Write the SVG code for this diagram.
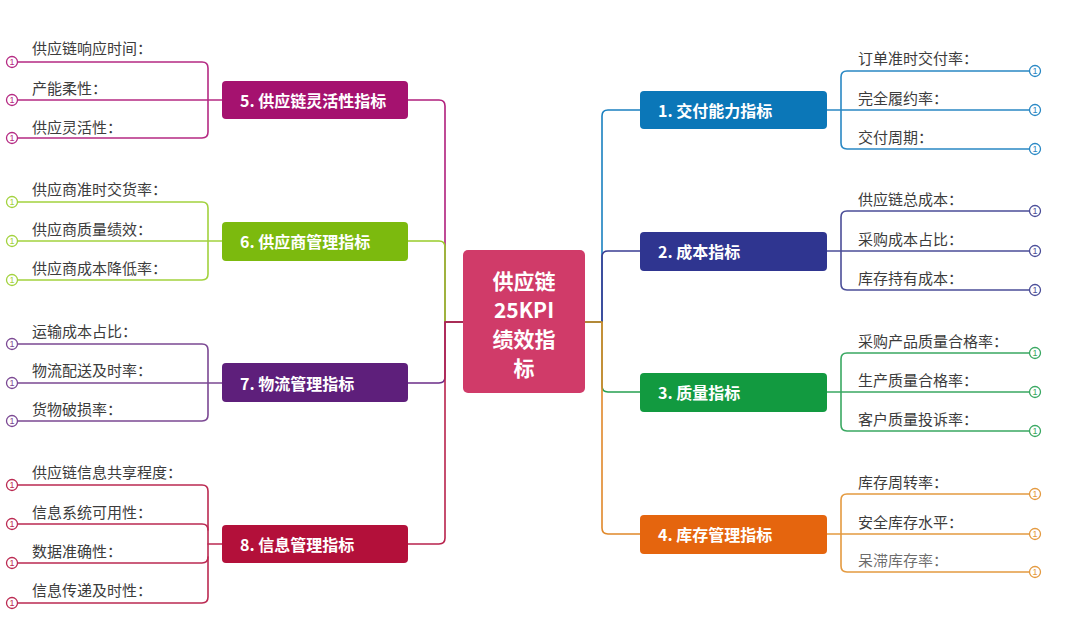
<svg xmlns="http://www.w3.org/2000/svg" width="1080" height="618" viewBox="0 0 1080 618">
<style>
.bg{fill:#ffffff}
.c{fill:none;stroke-width:1.6;stroke-linecap:round;stroke-linejoin:round}
.leaf{font-family:"Noto Sans CJK SC","Noto Sans",sans-serif;font-size:15px;fill:#3c3c3c;dominant-baseline:central}
.nt{font-family:"Noto Sans CJK SC","Noto Sans",sans-serif;font-size:16px;font-weight:700;fill:#ffffff;dominant-baseline:central}
.ct{font-family:"Noto Sans CJK SC","Noto Sans",sans-serif;font-size:21px;font-weight:700;fill:#ffffff;dominant-baseline:central;text-anchor:middle}
.dot{fill:#ffffff;stroke-width:1.3}
.dn{font-family:"Liberation Sans",sans-serif;font-size:9px;text-anchor:middle;dominant-baseline:central}
</style>
<rect class="bg" x="0" y="0" width="1080" height="618"/>
<g id="connectors">
  <path class="c" stroke="#1a80c0" d="M585,322 H602 V116 Q602,110 608,110 H640"/>
  <path class="c" stroke="#3a3d93" d="M585,322 H602 V257 Q602,251 608,251 H640"/>
  <path class="c" stroke="#26a050" d="M585,322 H602 V386 Q602,392 608,392 H640"/>
  <path class="c" stroke="#e0882a" d="M585,322 H602 V528 Q602,534 608,534 H640"/>
  <path class="c" stroke="#b01f7c" d="M463,322 H445 V106 Q445,100 439,100 H408"/>
  <path class="c" stroke="#98cc2a" d="M463,322 H445 V247 Q445,241 439,241 H408"/>
  <path class="c" stroke="#6b2d88" d="M463,322 H445 V377 Q445,383 439,383 H408"/>
  <path class="c" stroke="#b8224c" d="M463,322 H445 V538 Q445,544 439,544 H408"/>
  <g stroke="#2a88c4" class="c"><path d="M827,110 H1030"/><path d="M1030,71 H847 Q841,71 841,77 V143 Q841,149 847,149 H1030"/></g>
  <g stroke="#4b4e98" class="c"><path d="M827,251 H1030"/><path d="M1030,211 H847 Q841,211 841,217 V284 Q841,290 847,290 H1030"/></g>
  <g stroke="#3aa862" class="c"><path d="M827,392 H1030"/><path d="M1030,353 H847 Q841,353 841,359 V425 Q841,431 847,431 H1030"/></g>
  <g stroke="#e49a40" class="c"><path d="M827,534 H1030"/><path d="M1030,494 H847 Q841,494 841,500 V566 Q841,572 847,572 H1030"/></g>
  <g stroke="#b52a83" class="c"><path d="M222,100 H17"/><path d="M17,62 H202 Q208,62 208,68 V132 Q208,138 202,138 H17"/></g>
  <g stroke="#a2d23e" class="c"><path d="M222,241 H17"/><path d="M17,202 H202 Q208,202 208,208 V274 Q208,280 202,280 H17"/></g>
  <g stroke="#7b4893" class="c"><path d="M222,383 H17"/><path d="M17,344 H202 Q208,344 208,350 V415 Q208,421 202,421 H17"/></g>
  <g stroke="#bb2a52" class="c"><path d="M17,485 H202 Q208,485 208,491 V597 Q208,603 202,603 H17"/><path d="M17,524 H202 Q208,524 208,530"/><path d="M17,563 H202 Q208,563 208,557"/><path d="M208,544 H222"/></g>
</g>
<g id="center">
  <rect x="463" y="250" width="122" height="143" rx="5" fill="#d03b69"/>
  <text class="ct" x="524" y="280">供应链</text>
  <text class="ct" x="524" y="309">25KPI</text>
  <text class="ct" x="524" y="338">绩效指</text>
  <text class="ct" x="524" y="367">标</text>
</g>
<g id="n1"><rect x="640" y="91" width="187" height="38" rx="4" fill="#0b77b8"/><text class="nt" x="658" y="110">1. 交付能力指标</text></g>
<g id="n2"><rect x="640" y="232" width="187" height="39" rx="4" fill="#2f3590"/><text class="nt" x="658" y="251">2. 成本指标</text></g>
<g id="n3"><rect x="640" y="373" width="187" height="39" rx="4" fill="#129a40"/><text class="nt" x="658" y="392">3. 质量指标</text></g>
<g id="n4"><rect x="640" y="515" width="187" height="39" rx="4" fill="#e5650e"/><text class="nt" x="658" y="534">4. 库存管理指标</text></g>
<g id="n5"><rect x="222" y="81" width="186" height="38" rx="4" fill="#a5126f"/><text class="nt" x="240" y="100">5. 供应链灵活性指标</text></g>
<g id="n6"><rect x="222" y="222" width="186" height="39" rx="4" fill="#7cba0e"/><text class="nt" x="240" y="241">6. 供应商管理指标</text></g>
<g id="n7"><rect x="222" y="363" width="186" height="39" rx="4" fill="#5e1f7b"/><text class="nt" x="240" y="383">7. 物流管理指标</text></g>
<g id="n8"><rect x="222" y="525" width="186" height="38" rx="4" fill="#b3103a"/><text class="nt" x="240" y="544">8. 信息管理指标</text></g>
<g id="leaves-right">
  <g id="l1"><text class="leaf" x="858" y="57">订单准时交付率：</text><text class="leaf" x="858" y="97">完全履约率：</text><text class="leaf" x="858" y="136">交付周期：</text></g>
  <g id="l2"><text class="leaf" x="858" y="198">供应链总成本：</text><text class="leaf" x="858" y="238">采购成本占比：</text><text class="leaf" x="858" y="277">库存持有成本：</text></g>
  <g id="l3"><text class="leaf" x="858" y="340">采购产品质量合格率：</text><text class="leaf" x="858" y="379">生产质量合格率：</text><text class="leaf" x="858" y="418">客户质量投诉率：</text></g>
  <g id="l4"><text class="leaf" x="858" y="481">库存周转率：</text><text class="leaf" x="858" y="521">安全库存水平：</text><text class="leaf" x="858" y="559" fill-opacity="0.75">呆滞库存率：</text></g>
</g>
<g id="leaves-left">
  <g id="l5"><text class="leaf" x="32" y="47">供应链响应时间：</text><text class="leaf" x="32" y="87">产能柔性：</text><text class="leaf" x="32" y="126">供应灵活性：</text></g>
  <g id="l6"><text class="leaf" x="32" y="188">供应商准时交货率：</text><text class="leaf" x="32" y="228">供应商质量绩效：</text><text class="leaf" x="32" y="267">供应商成本降低率：</text></g>
  <g id="l7"><text class="leaf" x="32" y="330">运输成本占比：</text><text class="leaf" x="32" y="369">物流配送及时率：</text><text class="leaf" x="32" y="408">货物破损率：</text></g>
  <g id="l8"><text class="leaf" x="32" y="471">供应链信息共享程度：</text><text class="leaf" x="32" y="511">信息系统可用性：</text><text class="leaf" x="32" y="550">数据准确性：</text><text class="leaf" x="32" y="589">信息传递及时性：</text></g>
</g>
<g id="markers">
  <g stroke="#2a88c4"><circle class="dot" cx="1035" cy="71" r="5.5"/><circle class="dot" cx="1035" cy="110" r="5.5"/><circle class="dot" cx="1035" cy="149" r="5.5"/></g>
  <g fill="#2a88c4"><text class="dn" x="1035" y="71">1</text><text class="dn" x="1035" y="110">1</text><text class="dn" x="1035" y="149">1</text></g>
  <g stroke="#4b4e98"><circle class="dot" cx="1035" cy="211" r="5.5"/><circle class="dot" cx="1035" cy="251" r="5.5"/><circle class="dot" cx="1035" cy="290" r="5.5"/></g>
  <g fill="#4b4e98"><text class="dn" x="1035" y="211">1</text><text class="dn" x="1035" y="251">1</text><text class="dn" x="1035" y="290">1</text></g>
  <g stroke="#3aa862"><circle class="dot" cx="1035" cy="353" r="5.5"/><circle class="dot" cx="1035" cy="392" r="5.5"/><circle class="dot" cx="1035" cy="431" r="5.5"/></g>
  <g fill="#3aa862"><text class="dn" x="1035" y="353">1</text><text class="dn" x="1035" y="392">1</text><text class="dn" x="1035" y="431">1</text></g>
  <g stroke="#e49a40"><circle class="dot" cx="1035" cy="494" r="5.5"/><circle class="dot" cx="1035" cy="534" r="5.5"/><circle class="dot" cx="1035" cy="572" r="5.5"/></g>
  <g fill="#e49a40"><text class="dn" x="1035" y="494">1</text><text class="dn" x="1035" y="534">1</text><text class="dn" x="1035" y="572">1</text></g>
  <g stroke="#b52a83"><circle class="dot" cx="12" cy="62" r="5.5"/><circle class="dot" cx="12" cy="100" r="5.5"/><circle class="dot" cx="12" cy="138" r="5.5"/></g>
  <g fill="#b52a83"><text class="dn" x="12" y="62">1</text><text class="dn" x="12" y="100">1</text><text class="dn" x="12" y="138">1</text></g>
  <g stroke="#a2d23e"><circle class="dot" cx="12" cy="202" r="5.5"/><circle class="dot" cx="12" cy="241" r="5.5"/><circle class="dot" cx="12" cy="280" r="5.5"/></g>
  <g fill="#a2d23e"><text class="dn" x="12" y="202">1</text><text class="dn" x="12" y="241">1</text><text class="dn" x="12" y="280">1</text></g>
  <g stroke="#7b4893"><circle class="dot" cx="12" cy="344" r="5.5"/><circle class="dot" cx="12" cy="383" r="5.5"/><circle class="dot" cx="12" cy="421" r="5.5"/></g>
  <g fill="#7b4893"><text class="dn" x="12" y="344">1</text><text class="dn" x="12" y="383">1</text><text class="dn" x="12" y="421">1</text></g>
  <g stroke="#bb2a52"><circle class="dot" cx="12" cy="485" r="5.5"/><circle class="dot" cx="12" cy="524" r="5.5"/><circle class="dot" cx="12" cy="563" r="5.5"/><circle class="dot" cx="12" cy="603" r="5.5"/></g>
  <g fill="#bb2a52"><text class="dn" x="12" y="485">1</text><text class="dn" x="12" y="524">1</text><text class="dn" x="12" y="563">1</text><text class="dn" x="12" y="603">1</text></g>
</g>
</svg>
